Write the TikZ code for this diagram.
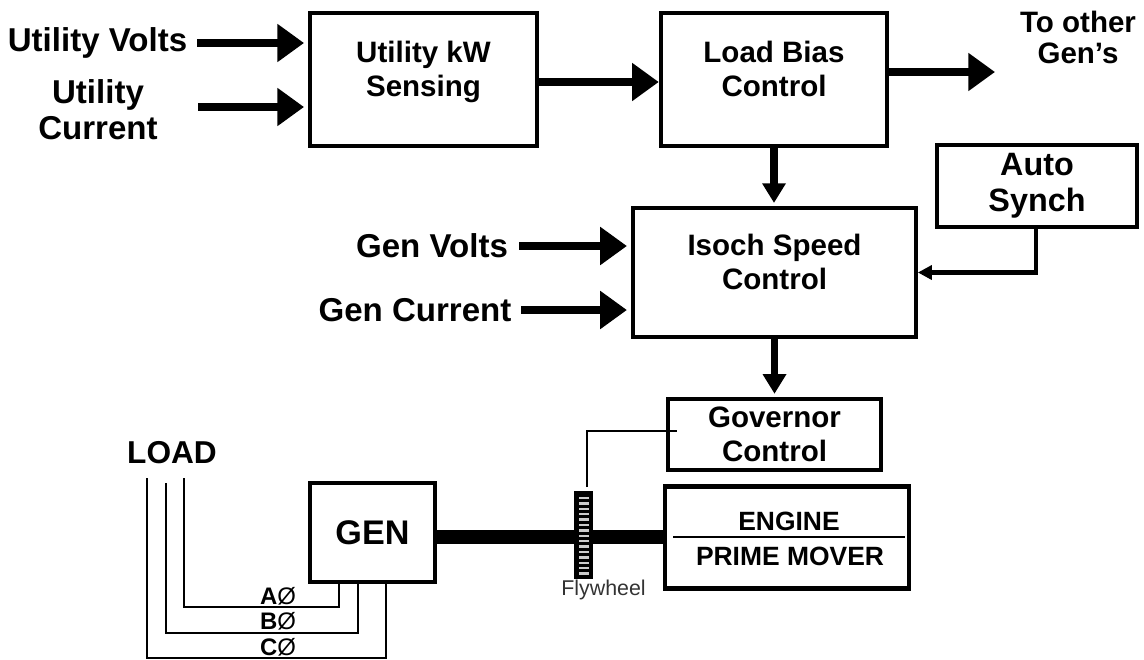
\documentclass[tikz,border=0pt]{standalone}
\usepackage{fontspec}
\setmainfont{Liberation Sans}
\usetikzlibrary{arrows.meta,positioning,calc}

\begin{document}
\begin{tikzpicture}[
    x=0.025cm, y=-0.025cm,
    block/.style={rectangle, draw, line width=2.9pt, align=center, inner sep=0pt, font=\fontsize{21}{24}\selectfont\bfseries},
    raised/.style={text depth=15pt},
    tag/.style={align=center, inner sep=0pt, font=\fontsize{23.5}{25.5}\selectfont\bfseries},
    arrow/.style={-{Triangle[length=19pt, width=26pt]}, line width=5pt},
    downarrow/.style={-{Triangle[length=14pt, width=16pt]}, line width=5pt},
    smallarrow/.style={-{Triangle[length=10pt, width=10pt]}, line width=2.9pt},
    wire/.style={line width=1.5pt},
    phase/.style={inner sep=0pt, font=\fontsize{17}{19}\selectfont}
]
\useasboundingbox (0,0) rectangle (1144,659);

% Control blocks
\node[block, raised, minimum width=161pt, minimum height=95pt] (kw_sensing) at (423.5,79.5) {Utility kW\\Sensing};
\node[block, raised, minimum width=161pt, minimum height=95pt] (load_bias) at (774,79.5) {Load Bias\\Control};
\node[block, raised, minimum width=201pt, minimum height=92pt] (isoch) at (774.5,272.5) {Isoch Speed\\Control};
\node[block, minimum width=142pt, minimum height=58pt, font=\fontsize{23}{25.5}\selectfont\bfseries] (auto_synch) at (1037,186) {Auto\\Synch};
\node[block, minimum width=151pt, minimum height=51pt] (governor) at (774.5,434.5) {Governor\\Control};

% Machine blocks
\node[block, minimum width=89pt, minimum height=70.5pt, font=\fontsize{24.3}{28}\selectfont\bfseries] (gen) at (372.5,532.5) {GEN};
\node[block, minimum width=174pt, minimum height=72.5pt] (engine) at (787,537.5) {};
\node[inner sep=0pt, font=\fontsize{18.8}{22}\selectfont\bfseries] (engine_txt) at (789,521) {ENGINE};
\node[inner sep=0pt, font=\fontsize{18.8}{22}\selectfont\bfseries] (mover_txt) at (790,556) {PRIME MOVER};
\coordinate (rule_l) at (673,537);
\coordinate (rule_r) at (905,537);
\draw[wire] (rule_l) -- (rule_r);

% Input and output labels
\node[tag] (utility_volts) at (97.5,43) {Utility Volts};
\node[tag] (utility_current) at (98,110) {Utility\\Current};
\node[tag, font=\fontsize{21}{22}\selectfont\bfseries] (other_gens) at (1078,37) {To other\\Gen's};
\node[tag] (gen_volts) at (432,246) {Gen Volts};
\node[tag] (gen_current) at (415,310) {Gen Current};
\node[tag, font=\fontsize{22.5}{26}\selectfont\bfseries] (load) at (172,453) {LOAD};

% Free ends of the arrows
\coordinate (uv_start) at (197,43);
\coordinate (uc_start) at (198,107);
\coordinate (gv_start) at (519,246);
\coordinate (gc_start) at (521,310);
\coordinate (out_end) at (995,72);

% Main arrows
\draw[arrow, shorten >=3pt] (uv_start) -- (uv_start -| kw_sensing.west);
\draw[arrow, shorten >=3pt] (uc_start) -- (uc_start -| kw_sensing.west);
\draw[arrow] ($(kw_sensing.east)+(-3,2.5)$) -- ($(load_bias.west)+(0,2.5)$);
\draw[arrow] (out_end -| load_bias.east) -- (out_end);
\draw[downarrow, shorten >=2pt] (load_bias.south) -- (load_bias.south |- isoch.north);
\draw[downarrow, shorten >=2pt] (isoch.south) -- (isoch.south |- governor.north);
\draw[arrow, shorten >=3pt] (gv_start) -- (gv_start -| isoch.west);
\draw[arrow, shorten >=3pt] (gc_start) -- (gc_start -| isoch.west);
\draw[smallarrow] (auto_synch.south -| 1036,0) |- (isoch.east);

% Shaft and flywheel
\draw[line width=10.6pt] (gen.east |- 0,537) -- (engine.west |- 0,537);
\node[rectangle, fill=black, minimum width=13.5pt, minimum height=62.5pt, inner sep=0pt] (flywheel) at (583.5,535) {};
\foreach \y in {0,...,14} {
    \draw[gray!40, line width=1.7pt] (579,498+\y*5.4) -- (589,498+\y*5.4);
}
\node[inner sep=0pt, text=black!80, font=\fontsize{15.2}{17}\selectfont] (fly_txt) at (603.5,590) {Flywheel};
\coordinate (gov_tap) at (587,487);
\draw[wire] (gov_tap) |- (677,431);

% Load phases
\coordinate (a_end) at (184,478);
\coordinate (b_end) at (166,483);
\coordinate (c_end) at (147,478);
\draw[wire] (a_end) |- (339,607) -- (gen.south -| 339,0);
\draw[wire] (b_end) |- (358,633) -- (gen.south -| 358,0);
\draw[wire] (c_end) |- (386,658) -- (gen.south -| 386,0);
\node[phase] (a_phase) at (278,596) {\textbf{A}Ø};
\node[phase] (b_phase) at (278,621) {\textbf{B}Ø};
\node[phase] (c_phase) at (278,647) {\textbf{C}Ø};

\end{tikzpicture}
\end{document}
